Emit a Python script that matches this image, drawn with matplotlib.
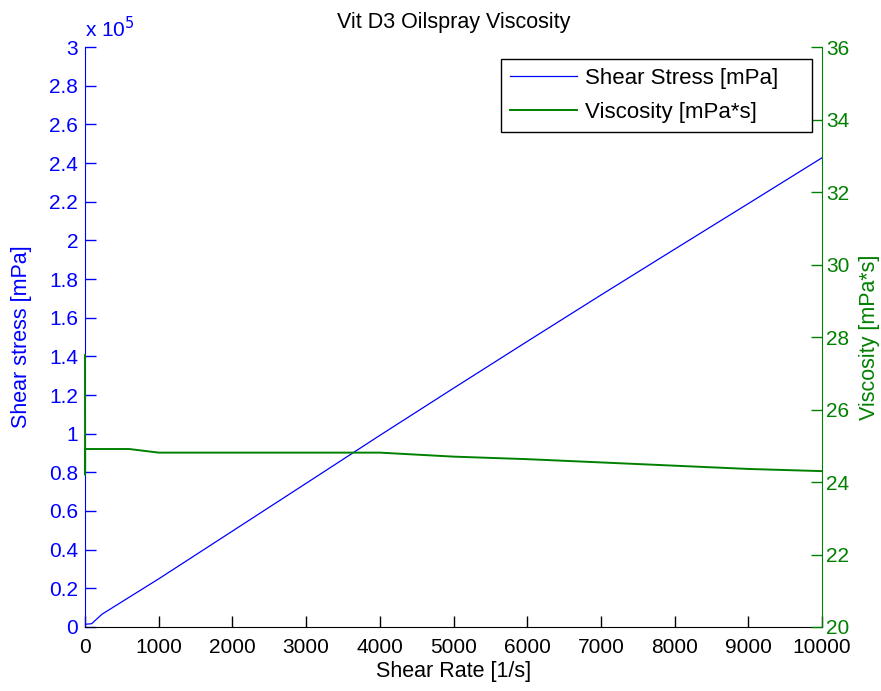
import matplotlib
matplotlib.use("Agg")
import matplotlib.pyplot as plt
from matplotlib.ticker import FuncFormatter, MultipleLocator

plt.rcParams['font.family'] = ['Liberation Sans', 'DejaVu Sans']

# Rheometer readings
shear_rate = [0, 1, 2, 90, 230, 600, 1000, 2000, 3000, 4000, 5000, 6000, 7000, 8000, 9000, 10000]
shear_stress = [1400, 1400, 1400, 1700, 6600, 15400, 24900, 49600, 74300, 99100,
                123500, 147700, 171700, 195400, 219000, 242700]
viscosity = [27.5, 24.2, 24.91, 24.91, 24.91, 24.91, 24.81, 24.81, 24.81, 24.81,
             24.70, 24.63, 24.54, 24.45, 24.36, 24.30]

title = "Vit D3 Oilspray Viscosity"
xlabel = "Shear Rate [1/s]"
ylabel_left = "Shear stress [mPa]"
ylabel_right = "Viscosity [mPa*s]"
legend_labels = ["Shear Stress [mPa]", "Viscosity [mPa*s]"]

BLUE = "#0000ff"
GREEN = "#008000"
FS_TICK = 15
FS_LABEL = 15.5
FS_LEG = 16

W, H = 881, 691
fig = plt.figure(figsize=(W / 100, H / 100), dpi=100)
L, R, B, T = 85, 822, 627, 47
ax = fig.add_axes([L / W, 1 - B / H, (R - L) / W, (B - T) / H])
ax2 = ax.twinx()

l1, = ax.plot(shear_rate, shear_stress, color=BLUE, lw=0.9)
l2, = ax2.plot(shear_rate, viscosity, color=GREEN, lw=1.4, clip_on=False)

ax.set_xlim(0, 10000)
ax.set_ylim(0, 3e5)
ax2.set_ylim(20, 36)
ax.xaxis.set_major_locator(MultipleLocator(1000))
ax.yaxis.set_major_locator(MultipleLocator(2e4))
ax2.yaxis.set_major_locator(MultipleLocator(2))
ax.yaxis.set_major_formatter(FuncFormatter(lambda v, p: f"{v / 1e5:g}"))

for a in (ax, ax2):
    a.spines['top'].set_visible(False)
ax.spines['left'].set_color(BLUE)
ax.spines['right'].set_visible(False)
ax.spines['bottom'].set_color('black')
ax2.spines['left'].set_visible(False)
ax2.spines['bottom'].set_visible(False)
ax2.spines['right'].set_color(GREEN)

ax.tick_params(axis='x', direction='in', length=8, width=1, colors='black',
               labelsize=FS_TICK, pad=8)
ax.tick_params(axis='y', direction='in', length=8, width=1, colors=BLUE,
               labelsize=FS_TICK, pad=5)
ax2.tick_params(axis='y', direction='in', length=8, width=1, colors=GREEN,
                labelsize=FS_TICK, pad=3)

ax.set_xlabel(xlabel, fontsize=FS_LABEL, labelpad=3)
ax.set_ylabel(ylabel_left, fontsize=FS_LABEL, color=BLUE, labelpad=12)
ax2.set_ylabel(ylabel_right, fontsize=FS_LABEL, color=GREEN, labelpad=7)
ax.set_title(title, fontsize=FS_LABEL, pad=13.5)

ax.text(0, 1.01, r"x 10$^5$", transform=ax.transAxes, color=BLUE,
        fontsize=FS_TICK, ha='left', va='bottom')

# trailing spaces give the legend box its wide right margin
leg = ax2.legend([l1, l2], [s + "    " for s in legend_labels], loc='upper right',
                 bbox_to_anchor=(812 / W, 1 - 59 / H),
                 bbox_transform=fig.transFigure, borderaxespad=0,
                 fontsize=FS_LEG, handlelength=3.05, handletextpad=0.36,
                 labelspacing=0.58, borderpad=0.4, fancybox=False,
                 framealpha=1, edgecolor='black')
leg.get_frame().set_linewidth(1.0)

fig.savefig("out.png", dpi=100, facecolor='white')
